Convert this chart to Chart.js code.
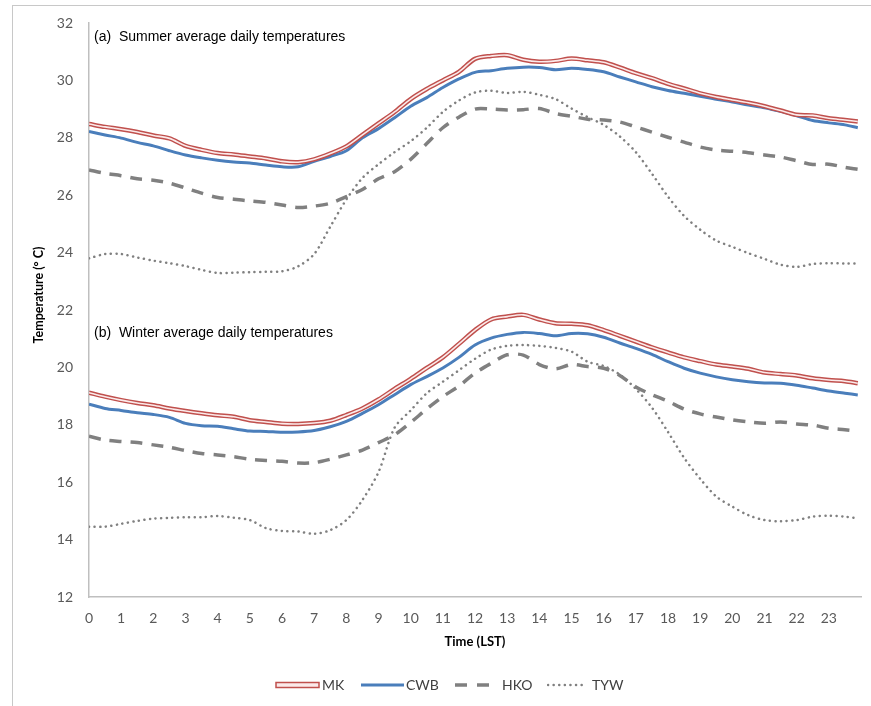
<!DOCTYPE html>
<html>
<head>
<meta charset="utf-8">
<script src="https://cdn.jsdelivr.net/npm/chart.js@4/dist/chart.umd.min.js"></script>
<style>
  html, body { margin: 0; padding: 0; background: #fff; }
  #wrap { position: relative; width: 871px; height: 706px; }
  #frame { position: absolute; left: 12px; top: 5px; right: 0; bottom: 0;
           border-left: 1px solid #c8c8c8; border-top: 1px solid #c8c8c8; }
  canvas { position: absolute; left: 0; top: 0; }
  .lg { position: absolute; top: 676px; height: 18px; font: 14px Lato, sans-serif; color: #404040; line-height: 18px; }
  .lg svg { position: absolute; top: 0; }
</style>
</head>
<body>
<div id="wrap">
  <div id="frame"></div>
  <canvas id="tempChart" width="871" height="706"></canvas>
  <div class="lg" style="left:275px"><svg width="46" height="18"><rect x="1" y="6.5" width="43" height="5" fill="#fbeaea" stroke="#c0504d" stroke-width="1.5"/></svg></div>
  <div class="lg" style="left:322px">MK</div>
  <div class="lg" style="left:361px"><svg width="44" height="18"><line x1="0" y1="9" x2="43" y2="9" stroke="#4a7ebb" stroke-width="3"/></svg></div>
  <div class="lg" style="left:406px">CWB</div>
  <div class="lg" style="left:455px"><svg width="36" height="18"><line x1="0" y1="9" x2="34" y2="9" stroke="#808080" stroke-width="3.5" stroke-dasharray="12 10"/></svg></div>
  <div class="lg" style="left:502px">HKO</div>
  <div class="lg" style="left:547px"><svg width="42" height="18"><line x1="1" y1="9" x2="40" y2="9" stroke="#808080" stroke-width="2.5" stroke-linecap="round" stroke-dasharray="0.1 5.5"/></svg></div>
  <div class="lg" style="left:592px">TYW</div>
</div>
<script>
// hour of day (LST), half-hourly
const hours = [0, 0.5, 1, 1.5, 2, 2.5, 3, 3.5, 4, 4.5, 5, 5.5, 6, 6.5, 7, 7.5, 8, 8.5, 9, 9.5,
  10, 10.5, 11, 11.5, 12, 12.5, 13, 13.5, 14, 14.5, 15, 15.5, 16, 16.5, 17, 17.5, 18, 18.5, 19, 19.5,
  20, 20.5, 21, 21.5, 22, 22.5, 23, 23.5, 23.9];

// (a) summer
const mkSummer = [28.48, 28.38, 28.3, 28.2, 28.08, 27.98, 27.72, 27.58, 27.47, 27.42, 27.35, 27.28, 27.18, 27.15, 27.25, 27.45, 27.7, 28.1, 28.5, 28.9,
  29.35, 29.7, 30.0, 30.3, 30.75, 30.85, 30.88, 30.72, 30.65, 30.68, 30.76, 30.7, 30.63, 30.45, 30.25, 30.08, 29.88, 29.72, 29.55, 29.42,
  29.32, 29.22, 29.1, 28.95, 28.8, 28.78, 28.68, 28.62, 28.57];
const cwbSummer = [28.22, 28.1, 27.99, 27.84, 27.72, 27.55, 27.4, 27.3, 27.22, 27.16, 27.12, 27.05, 26.99, 26.99, 27.18, 27.35, 27.55, 28.0, 28.32, 28.7,
  29.1, 29.4, 29.75, 30.05, 30.28, 30.34, 30.42, 30.46, 30.45, 30.37, 30.42, 30.38, 30.3, 30.12, 29.95, 29.78, 29.65, 29.55, 29.45, 29.34,
  29.25, 29.14, 29.05, 28.92, 28.77, 28.6, 28.52, 28.45, 28.35];
const hkoSummer = [26.88, 26.76, 26.68, 26.57, 26.52, 26.42, 26.25, 26.07, 25.92, 25.86, 25.8, 25.75, 25.66, 25.57, 25.62, 25.72, 25.95, 26.2, 26.57, 26.82,
  27.25, 27.8, 28.35, 28.72, 29.0, 29.0, 28.97, 28.98, 29.02, 28.85, 28.75, 28.65, 28.62, 28.55, 28.38, 28.2, 28.02, 27.85, 27.68, 27.57,
  27.53, 27.48, 27.4, 27.33, 27.2, 27.07, 27.08, 26.97, 26.9];
const tywSummer = [23.8, 23.95, 23.95, 23.83, 23.72, 23.63, 23.53, 23.4, 23.29, 23.3, 23.32, 23.33, 23.35, 23.52, 23.95, 24.9, 25.85, 26.6, 27.08, 27.5,
  27.88, 28.35, 28.9, 29.3, 29.58, 29.64, 29.56, 29.6, 29.5, 29.35, 29.02, 28.72, 28.45, 28.05, 27.5, 26.75, 25.95, 25.28, 24.8, 24.42,
  24.2, 23.98, 23.78, 23.58, 23.5, 23.6, 23.63, 23.62, 23.62];

// (b) winter
const mkWinter = [19.12, 18.98, 18.86, 18.76, 18.68, 18.57, 18.48, 18.4, 18.33, 18.28, 18.16, 18.1, 18.04, 18.03, 18.06, 18.14, 18.34, 18.57, 18.88, 19.25,
  19.6, 19.98, 20.35, 20.82, 21.3, 21.67, 21.77, 21.83, 21.67, 21.54, 21.52, 21.47, 21.3, 21.1, 20.9, 20.7, 20.52, 20.35, 20.22, 20.1,
  20.03, 19.95, 19.82, 19.77, 19.72, 19.62, 19.56, 19.52, 19.45];
const cwbWinter = [18.72, 18.57, 18.5, 18.42, 18.36, 18.26, 18.05, 17.97, 17.95, 17.86, 17.78, 17.77, 17.74, 17.75, 17.8, 17.93, 18.12, 18.4, 18.7, 19.05,
  19.4, 19.68, 19.98, 20.35, 20.78, 21.02, 21.15, 21.22, 21.18, 21.1, 21.18, 21.17, 21.05, 20.85, 20.66, 20.45, 20.2, 19.97, 19.8, 19.67,
  19.57, 19.5, 19.46, 19.45, 19.38, 19.28, 19.18, 19.1, 19.04];
const hkoWinter = [17.6, 17.47, 17.42, 17.38, 17.3, 17.22, 17.1, 17.0, 16.95, 16.89, 16.8, 16.76, 16.73, 16.67, 16.68, 16.8, 16.95, 17.12, 17.38, 17.65,
  18.08, 18.55, 18.98, 19.35, 19.8, 20.14, 20.44, 20.43, 20.1, 19.95, 20.1, 20.03, 19.97, 19.72, 19.32, 19.05, 18.82, 18.55, 18.38, 18.27,
  18.17, 18.1, 18.05, 18.1, 18.03, 17.99, 17.88, 17.83, 17.78];
const tywWinter = [14.45, 14.45, 14.55, 14.65, 14.73, 14.76, 14.78, 14.78, 14.82, 14.76, 14.68, 14.4, 14.3, 14.28, 14.2, 14.33, 14.68, 15.38, 16.35, 17.9,
  18.5, 19.1, 19.5, 19.9, 20.3, 20.62, 20.75, 20.78, 20.75, 20.68, 20.55, 20.2, 20.05, 19.75, 19.25, 18.6, 17.75, 16.85, 16.12, 15.5,
  15.15, 14.85, 14.68, 14.64, 14.68, 14.8, 14.83, 14.8, 14.74];

const panelLabels = ['(a)  Summer average daily temperatures', '(b)  Winter average daily temperatures'];
const yTitle = 'Temperature (\u00b0 C)';
const xTitle = 'Time (LST)';

const pts = vals => vals.map((v, i) => ({ x: hours[i], y: v }));

function seriesSet(mk, cwb, hko, tyw) {
  const base = { pointRadius: 0, tension: 0.3, fill: false };
  return [
    { ...base, label: 'MK', data: pts(mk), borderColor: '#fbeaea', borderWidth: 1.6 },
    { ...base, label: 'MK', data: pts(mk), borderColor: '#c0504d', borderWidth: 4.5 },
    { ...base, label: 'CWB', data: pts(cwb), borderColor: '#4a7ebb', borderWidth: 3 },
    { ...base, label: 'HKO', data: pts(hko), borderColor: '#808080', borderWidth: 3.5, borderDash: [12, 9] },
    { ...base, label: 'TYW', data: pts(tyw), borderColor: '#808080', borderWidth: 2.5, borderDash: [0.1, 5.5], borderCapStyle: 'round' }
  ];
}

const textPlugin = {
  id: 'panelText',
  afterDraw(chart) {
    const ctx = chart.ctx;
    const yS = chart.scales.y;
    const a = chart.chartArea;
    ctx.save();
    ctx.fillStyle = '#000';
    ctx.font = '14px "Liberation Sans", Arial, sans-serif';
    ctx.textBaseline = 'middle';
    ctx.fillText(panelLabels[0], a.left + 5, yS.getPixelForValue(31.5));
    ctx.fillText(panelLabels[1], a.left + 5, yS.getPixelForValue(21.2));
    ctx.font = 'bold 12.5px Lato, sans-serif';
    ctx.textAlign = 'center';
    ctx.translate(39, 295);
    ctx.rotate(-Math.PI / 2);
    ctx.fillText(yTitle, 0, 0);
    ctx.restore();
  }
};

const ctx = document.getElementById('tempChart').getContext('2d');
new Chart(ctx, {
  type: 'line',
  data: {
    datasets: [
      ...seriesSet(mkSummer, cwbSummer, hkoSummer, tywSummer),
      ...seriesSet(mkWinter, cwbWinter, hkoWinter, tywWinter)
    ]
  },
  plugins: [textPlugin],
  options: {
    responsive: false,
    animation: false,
    layout: { padding: { left: 0, right: 10, top: 23, bottom: 56 } },
    plugins: {
      legend: { display: false },
      tooltip: { enabled: false }
    },
    scales: {
      x: {
        type: 'linear',
        min: 0,
        max: 24,
        afterFit: s => { s.height = 53; },
        ticks: {
          stepSize: 1,
          color: '#595959',
          font: { family: 'Lato', size: 14 },
          padding: 8,
          maxRotation: 0,
          autoSkip: false,
          callback: v => (v === 24 ? '' : v)
        },
        grid: { display: false, drawTicks: true, tickLength: 5, tickColor: '#bfbfbf' },
        border: { color: '#bfbfbf', width: 1.5 },
        title: {
          display: true,
          text: xTitle,
          color: '#000',
          font: { family: 'Lato', size: 13, weight: 'bold' },
          padding: { top: 0, bottom: 0 }
        }
      },
      y: {
        min: 12,
        max: 32,
        afterFit: s => { s.width = 89; },
        ticks: {
          stepSize: 2,
          color: '#595959',
          font: { family: 'Lato', size: 14 },
          padding: 10
        },
        grid: { display: false, drawTicks: true, tickLength: 6, tickColor: '#bfbfbf' },
        border: { color: '#bfbfbf', width: 1.5 }
      }
    }
  }
});
</script>
</body>
</html>
